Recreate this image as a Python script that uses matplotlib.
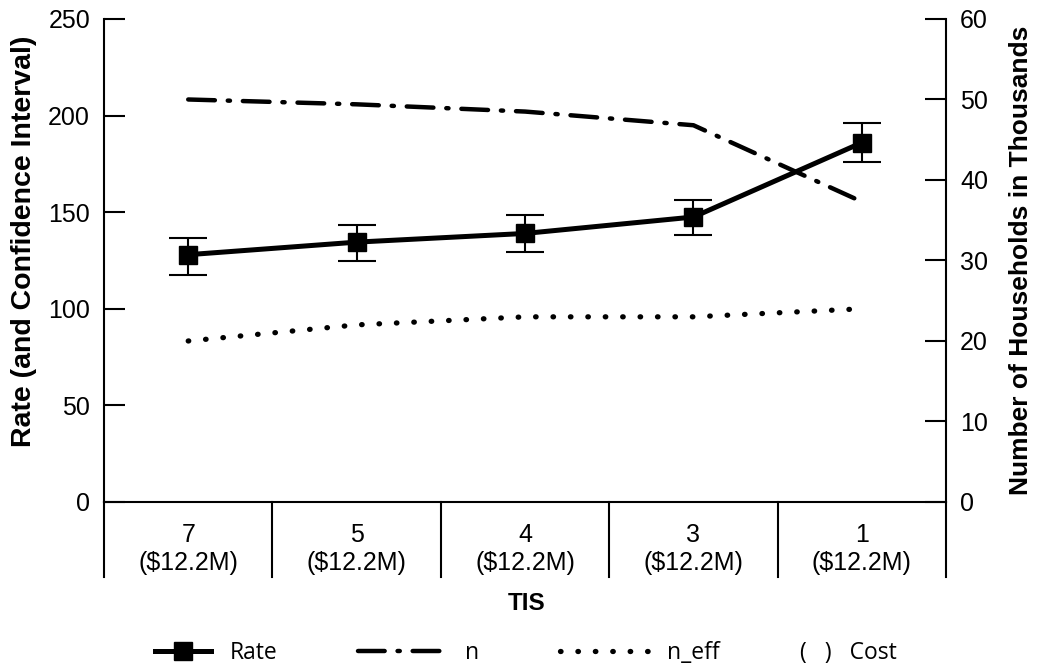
import matplotlib
matplotlib.use("Agg")
import matplotlib.pyplot as plt
import matplotlib.text as mtext
from matplotlib.legend_handler import HandlerBase, HandlerLine2D

# Data
tis_labels = ["7\n($12.2M)", "5\n($12.2M)", "4\n($12.2M)", "3\n($12.2M)", "1\n($12.2M)"]
rate = [128, 134.5, 139, 147.5, 186]
rate_ci_low = [117.5, 124.5, 129.5, 138, 176]
rate_ci_high = [136.5, 143.5, 148.5, 156.5, 196]
n_households = [50.0, 49.4, 48.5, 46.8, 37.3]
n_eff = [20.0, 22.0, 23.0, 23.0, 24.0]

plt.rcParams["font.family"] = "sans-serif"
plt.rcParams["font.sans-serif"] = ["Liberation Sans", "DejaVu Sans"]


class CostHandle:
    pass


class HandlerParenText(HandlerBase):
    # draws "( )  Cost" where the legend handle would go
    def create_artists(self, legend, orig_handle, xdescent, ydescent,
                       width, height, fontsize, trans):
        t = mtext.Text(-xdescent, 0, "(   )   Cost",
                       ha="left", va="baseline", fontsize=fontsize,
                       family="Open Sans", transform=trans)
        return [t]


class HandlerShortLine(HandlerLine2D):
    # shorter handle, right aligned in its box
    def create_artists(self, legend, orig_handle, xdescent, ydescent,
                       width, height, fontsize, trans):
        w2 = width * 0.63
        return super().create_artists(legend, orig_handle, xdescent - (width - w2),
                                      ydescent, w2, height, fontsize, trans)


fig = plt.figure(figsize=(10.37, 6.71), dpi=100)
ax = fig.add_axes([0.1003, 0.2519, 0.8120, 0.7198])
ax2 = ax.twinx()

x = list(range(1, len(rate) + 1))
yerr = [[r - lo for r, lo in zip(rate, rate_ci_low)],
        [hi - r for r, hi in zip(rate, rate_ci_high)]]

ax.errorbar(x, rate, yerr=yerr, fmt="none", ecolor="black",
            elinewidth=1.5, capsize=14, capthick=1.5, zorder=3)
rate_line, = ax.plot(x, rate, color="black", lw=3.6, marker="s",
                     markersize=13, zorder=4, label="Rate")

n_line, = ax2.plot(x, n_households, color="black", lw=3.2,
                   ls=(0, (6, 2.9, 0.5, 2.9)), dash_capstyle="round", label="n")
neff_line, = ax2.plot(x, n_eff, color="black", lw=3.8,
                      ls=(0, (0.1, 3.2)), dash_capstyle="round", label="n_eff")

ax.set_xlim(0.5, len(rate) + 0.5)
ax.set_ylim(0, 250)
ax2.set_ylim(0, 60)
ax.set_yticks([0, 50, 100, 150, 200, 250])
ax2.set_yticks([0, 10, 20, 30, 40, 50, 60])
ax.set_xticks(x)
ax.set_xticklabels(tis_labels, fontsize=18, linespacing=1.2)

for a in (ax, ax2):
    a.spines["top"].set_visible(False)
    for s in a.spines.values():
        s.set_linewidth(1.5)
ax.spines["right"].set_visible(False)
ax2.spines["left"].set_visible(False)
ax2.spines["bottom"].set_visible(False)

ax.tick_params(axis="y", direction="in", length=15, width=1.5, labelsize=18, pad=10)
ax2.tick_params(axis="y", direction="in", length=15, width=1.5, labelsize=18, pad=10)
ax.tick_params(axis="x", length=0, pad=15)

# category dividers below the axis
for b in [i + 0.5 for i in range(len(rate) + 1)]:
    ax.plot([b, b], [0, -0.155], color="black", lw=1.5,
            transform=ax.get_xaxis_transform(), clip_on=False)

ax.set_ylabel("Rate (and Confidence Interval)", fontsize=20.5, fontweight="bold",
              ha="center", va="center")
ax.yaxis.set_label_coords(-0.095, 0.54)
ax2.set_ylabel("Number of Households in Thousands", fontsize=19, fontweight="bold",
               ha="center", va="center", rotation=90)
ax2.yaxis.set_label_coords(1.089, 0.5)

fig.text(527 / 1037, 1 - 604 / 671, "TIS", fontsize=17.5, fontweight="bold",
         ha="center", va="center")

fig.legend([rate_line, n_line, neff_line, CostHandle()],
           ["Rate", "n", "n_eff", ""],
           handler_map={CostHandle: HandlerParenText(),
                        rate_line: HandlerShortLine(numpoints=1)},
           loc="center left", bbox_to_anchor=(122 / 1037, 0.027), ncol=4,
           frameon=False, prop={"family": "Open Sans", "size": 16.5},
           handlelength=3.9, handletextpad=0.8, columnspacing=3.5,
           numpoints=1, borderpad=0, borderaxespad=0)

fig.savefig("out.png", dpi=100)
